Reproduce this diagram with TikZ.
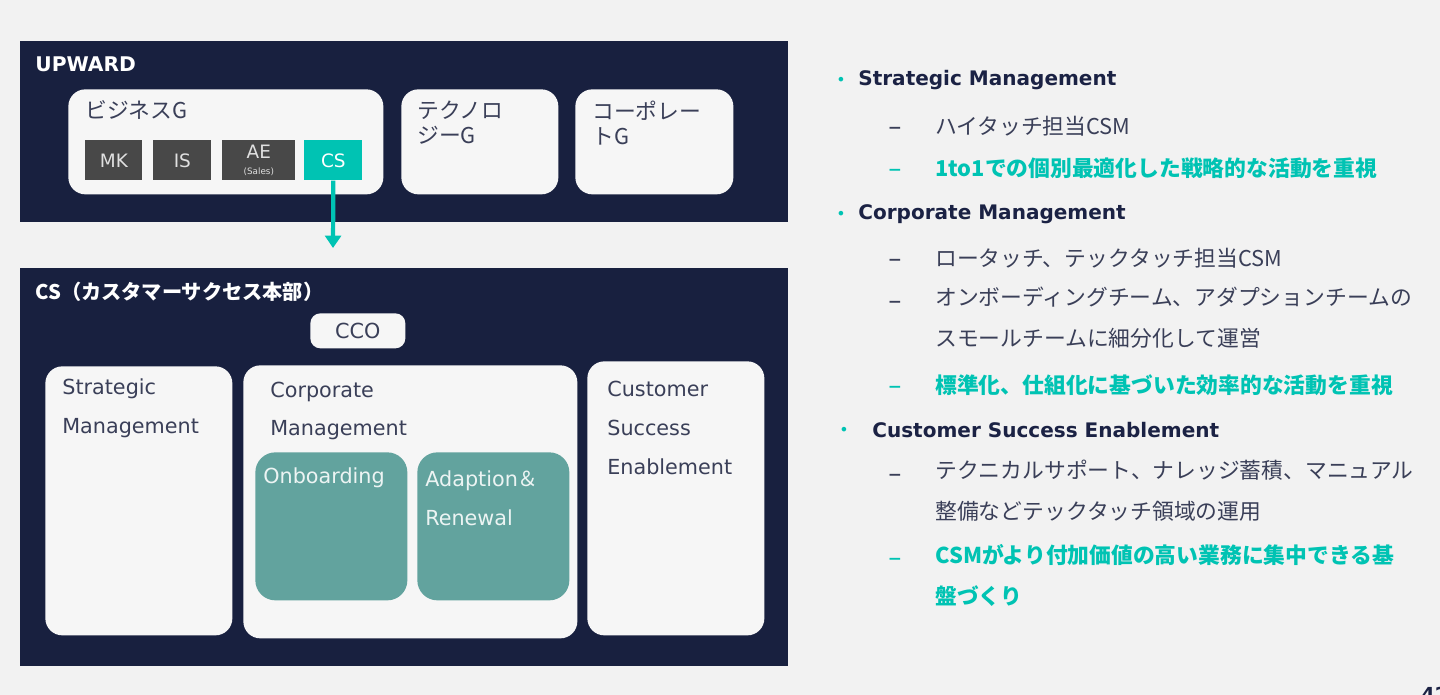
\documentclass[tikz,border=0pt]{standalone}
\usepackage{fontspec}
\setmainfont{DejaVu Sans}
\newfontfamily\jp{Noto Sans CJK JP}
\usetikzlibrary{arrows.meta,positioning}

\definecolor{navy}{HTML}{18203F}
\definecolor{pagebg}{HTML}{F2F2F2}
\definecolor{boxbg}{HTML}{F6F6F6}
\definecolor{csteal}{HTML}{00C3B3}
\definecolor{subteal}{HTML}{62A39E}
\definecolor{unitgray}{HTML}{484848}
\definecolor{inktext}{HTML}{3A3F58}
\definecolor{headink}{HTML}{1B2244}

\tikzset{
  wh/.style 2 args={minimum width=#1*0.02cm, minimum height=#2*0.02cm},
  panel/.style={fill=navy, anchor=north west, inner sep=0pt},
  group/.style={fill=boxbg, anchor=north west, inner sep=0pt, rounded corners=0.34cm},
  unit/.style={fill=unitgray, anchor=north west, inner sep=0pt, text=white!88!black,
    font=\fontsize{10.5pt}{11pt}\selectfont, align=center},
  team/.style={fill=subteal, anchor=north west, inner sep=0pt, rounded corners=0.4cm},
  title/.style={anchor=west, inner sep=0pt, text=white, font=\bfseries\fontsize{11.5pt}{14pt}\selectfont},
  boxtxt/.style={anchor=west, inner sep=0pt, align=left, text=inktext,
    font=\fontsize{11.8pt}{22pt}\selectfont},
  head/.style={anchor=west, inner sep=0pt, text=headink, font=\bfseries\fontsize{11.4pt}{14pt}\selectfont},
  dot/.style={anchor=center, inner sep=0pt, text=csteal, font=\fontsize{9pt}{10pt}\selectfont},
  enmark/.style={anchor=center, inner sep=0pt, font=\fontsize{15pt}{16pt}\selectfont},
  note/.style={anchor=west, inner sep=0pt, align=left, text=inktext,
    font=\jp\fontsize{12.4pt}{23.2pt}\selectfont},
  keynote/.style={note, text=csteal, font=\jp\bfseries\fontsize{12.4pt}{23.2pt}\selectfont},
  link/.style={draw=csteal, line width=2.4pt, -{Triangle[length=7pt,width=9pt]}}
}

\begin{document}
\begin{tikzpicture}[x=0.02cm, y=-0.02cm]
\useasboundingbox (0,0) rectangle (1440,695);
\fill[pagebg] (0,0) rectangle (1440,695);

% UPWARD panel
\node[panel, wh={768}{181}] (upward) at (20,41) {};
\node[title] (upward-t) at (35,64) {UPWARD};

\node[group, wh={315}{105}] (bizg) at (68,89) {};
\node[boxtxt, font=\jp\fontsize{12.4pt}{14pt}\selectfont] (bizg-t) at (85,110) {ビジネスG};
\node[group, wh={157}{105}] (techg) at (401,89) {};
\node[boxtxt, font=\jp\fontsize{12.4pt}{14.2pt}\selectfont] (techg-t) at (417,123) {テクノロ\\ジーG};
\node[group, wh={158}{105}] (corpg) at (575,89) {};
\node[boxtxt, font=\jp\fontsize{12.4pt}{14.2pt}\selectfont] (corpg-t) at (592,123) {コーポレー\\トG};

% units of the business group
\node[unit, wh={57}{40}] (mk) at (85,140) {MK};
\node[unit, wh={58}{40}] (is) at (153,140) {IS};
\node[unit, wh={73}{40}] (ae) at (222,140) {AE\\[-2pt]{\fontsize{5pt}{5pt}\selectfont(Sales)}};
\node[unit, wh={58}{40}, fill=csteal, text=white] (cs) at (304,140) {CS};

% arrow down to CS division
\coordinate (arrowtip) at (333,248);
\draw[link] (cs.south) -- (arrowtip);

% CS division panel
\node[panel, wh={768}{398}] (csdept) at (20,268) {};
\node[title, font=\jp\bfseries\fontsize{11.5pt}{14pt}\selectfont] (csdept-t) at (35,292) {CS（カスタマーサクセス本部）};

\node[group, wh={95}{35}, rounded corners=0.2cm] (cco) at (310,313) {};
\node[boxtxt, anchor=center] (cco-t) at (cco.center) {CCO};

\node[group, wh={187}{269}] (strat) at (45,366) {};
\node[boxtxt] (strat-t) at (62,408) {Strategic\\Management};
\node[group, wh={334}{273}] (corpm) at (243,365) {};
\node[boxtxt] (corpm-t) at (270,411) {Corporate\\Management};
\node[team, wh={152}{148}] (onb) at (255,452) {};
\node[boxtxt, text=white!88!subteal] (onb-t) at (263,478) {Onboarding};
\node[team, wh={152}{148}] (adapt) at (417,452) {};
\node[boxtxt, text=white!88!subteal] (adapt-t) at (425,498) {Adaption{\jp ＆}\\Renewal};
\node[group, wh={177}{274}] (cse) at (587,361) {};
\node[boxtxt] (cse-t) at (607,428) {Customer\\Success\\Enablement};

% notes on the right
\node[dot] (b1) at (841,81) {•};
\node[head] (h1) at (858,80) {Strategic Management};
\node[enmark, text=inktext] (d11) at (895,131) {–};
\node[note] (n11) at (935,126) {ハイタッチ担当CSM};
\node[enmark, text=csteal] (d12) at (895,173) {–};
\node[keynote] (n12) at (935,168) {1to1での個別最適化した戦略的な活動を重視};

\node[dot] (b2) at (841,215) {•};
\node[head] (h2) at (858,214) {Corporate Management};
\node[enmark, text=inktext] (d21) at (895,263) {–};
\node[note] (n21) at (935,258) {ロータッチ、テックタッチ担当CSM};
\node[enmark, text=inktext] (d22) at (895,305) {–};
\node[note, anchor=north west] (n22) at (935,287) {オンボーディングチーム、アダプションチームの\\スモールチームに細分化して運営};
\node[enmark, text=csteal] (d23) at (895,390) {–};
\node[keynote] (n23) at (935,385) {標準化、仕組化に基づいた効率的な活動を重視};

\node[dot] (b3) at (844,431) {•};
\node[head] (h3) at (872,430) {Customer Success Enablement};
\node[enmark, text=inktext] (d31) at (895,478) {–};
\node[note, anchor=north west] (n31) at (935,460) {テクニカルサポート、ナレッジ蓄積、マニュアル\\整備などテックタッチ領域の運用};
\node[enmark, text=csteal] (d32) at (895,562) {–};
\node[keynote, anchor=north west] (n32) at (935,544) {CSMがより付加価値の高い業務に集中できる基\\盤づくり};

% page number, cut by the page edge
\node[anchor=north west, inner sep=0pt, text=headink, font=\bfseries\fontsize{11pt}{12pt}\selectfont] (pageno) at (1421,687) {42};
\end{tikzpicture}
\end{document}
